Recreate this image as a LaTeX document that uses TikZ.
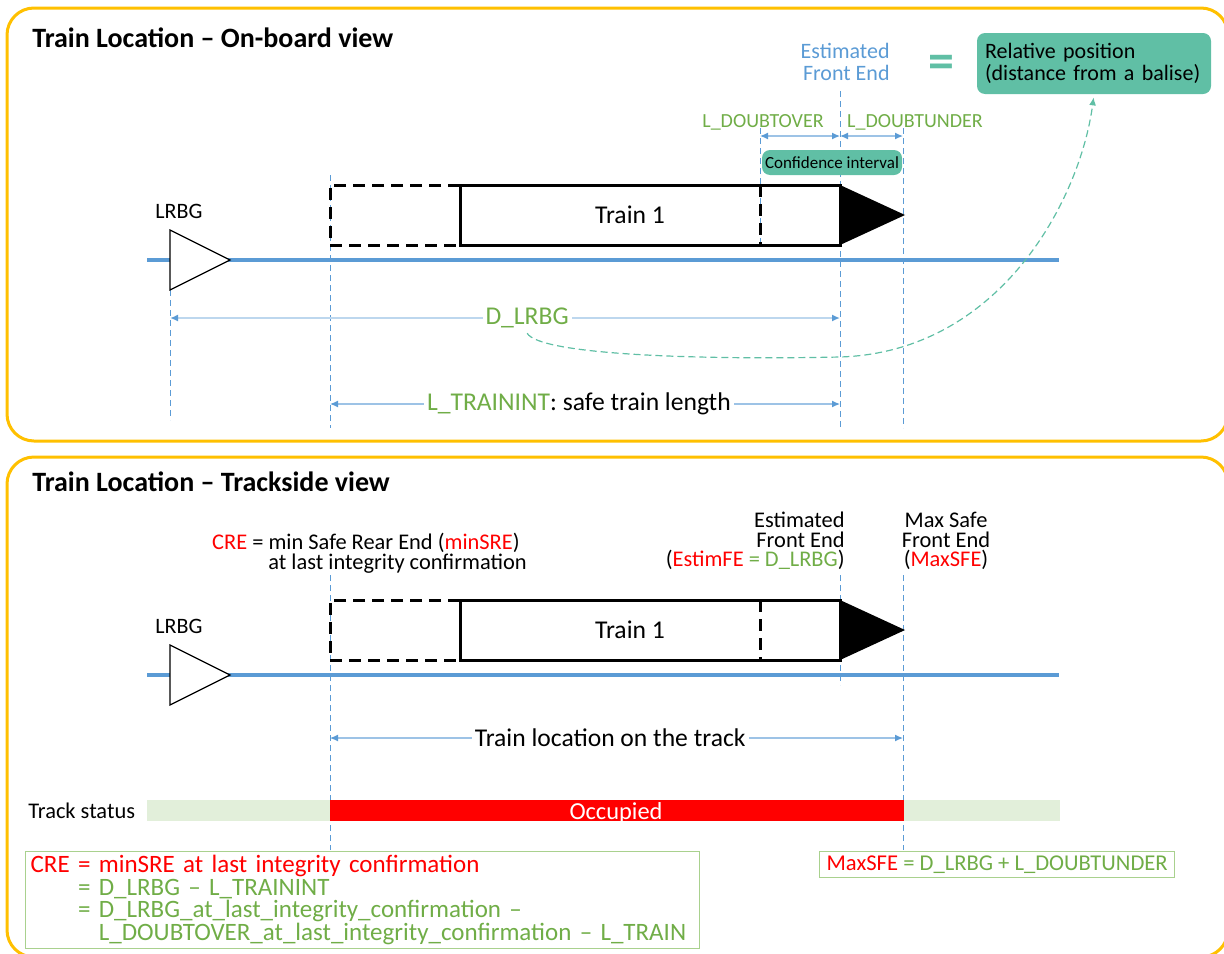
\documentclass[tikz,border=0pt]{standalone}
\usepackage{fontspec}
\setmainfont{Carlito}
\usetikzlibrary{arrows.meta}

\definecolor{frameyellow}{HTML}{FFC000}
\definecolor{trackblue}{HTML}{5B9BD5}
\definecolor{dimblue}{HTML}{9DC3E6}
\definecolor{paleblue}{HTML}{BDD7EE}
\definecolor{txtgreen}{HTML}{70AD47}
\definecolor{boxgreen}{HTML}{A9D18E}
\definecolor{freegreen}{HTML}{E2EFDA}
\definecolor{tealfill}{HTML}{60BFA5}

\begin{document}
\begin{tikzpicture}[x=0.5pt, y=-0.5pt,
    frame/.style={draw=frameyellow, line width=1.5pt, rounded corners=13.5pt},
    heading/.style={anchor=west, inner sep=0pt, font=\fontsize{14}{15}\selectfont\bfseries},
    txt/.style={inner sep=0pt, font=\fontsize{12.8}{11}\selectfont},
    note/.style={inner sep=0pt, font=\fontsize{11.2}{9.8}\selectfont},
    small/.style={inner sep=0pt, font=\fontsize{11}{11}\selectfont},
    track/.style={draw=trackblue, line width=2pt},
    guide/.style={draw=trackblue, line width=0.4pt, dash pattern=on 3pt off 2pt},
    dim/.style={{Latex[length=4pt,width=3.5pt,color=trackblue]}-{Latex[length=4pt,width=3.5pt,color=trackblue]}, draw=dimblue, line width=0.6pt},
    dimlabel/.style={txt, fill=white, inner xsep=1.5pt, inner ysep=2pt},
    tealbox/.style={fill=tealfill, rounded corners=4pt},
    trainline/.style={line width=1.5pt},
    traindash/.style={line width=1.5pt, dash pattern=on 6pt off 3.5pt},
    formula/.style={draw=boxgreen, line width=0.6pt, anchor=north west, align=left, text=txtgreen}
]
\useasboundingbox (0,0) rectangle (1224,953);
\clip (0,0) rectangle (1224,953);

% frames and titles
\draw[frame] (7,8) rectangle (1228,441);
\draw[frame] (7,457) rectangle (1228,957);
\node[heading] (titletop) at (32,38) {Train Location -- On-board view};
\node[heading] (titlebot) at (32,482) {Train Location -- Trackside view};

% guide lines
\draw[guide] (170,290) -- (170,420);
\draw[guide] (330,175) -- (330,428);
\draw[guide] (760,128) -- (760,245);
\draw[guide] (840,91) -- (840,428);
\draw[guide] (903,128) -- (903,428);
\draw[guide] (330,575) -- (330,850);
\draw[guide] (840,575) -- (840,685);
\draw[guide] (903,575) -- (903,850);

% track, balise and train, once per view
\foreach \dy/\p in {0/top,415/bot} {
  \begin{scope}[shift={(0,\dy)}]
    \draw[track] (147,260) -- (1059,260);
    \draw[fill=white, line width=0.6pt] (170,230) -- (230,260) -- (170,290) -- cycle;
    \node[small] (lrbg\p) at (179,211) {LRBG};
    \draw[traindash] (460,185) -- (330,185) -- (330,245) -- (460,245);
    \draw[trainline] (460,185) rectangle (840,245);
    \draw[traindash] (760,185) -- (760,245);
    \fill (840,185) -- (905,215) -- (840,245) -- cycle;
    \node[txt] (train\p) at (630,215) {Train 1};
  \end{scope}
}

% on-board view
\node[small, anchor=east, align=right, text=trackblue] (estfetop) at (890,62) {Estimated\\Front End};
\node[inner sep=0pt, font=\fontsize{26}{26}\selectfont\bfseries, text=tealfill] (eqsign) at (941,67) {=};
\node[tealbox, align=left, text width=109pt, inner xsep=4pt, minimum height=30.5pt, font=\fontsize{11}{11}\selectfont] (relpos) at (1094,63.5) {Relative position\\(distance from a balise)};

\node[inner sep=0pt, font=\fontsize{10}{10}\selectfont, text=txtgreen] (doubtover) at (763,122) {L\_DOUBTOVER};
\node[inner sep=0pt, font=\fontsize{10}{10}\selectfont, text=txtgreen] (doubtunder) at (915,122) {L\_DOUBTUNDER};
\coordinate (dov0) at (760,136);
\coordinate (dov1) at (840,136);
\coordinate (dun1) at (903,136);
\draw[dim] (dov0) -- (dov1);
\draw[dim] (dov1) -- (dun1);
\node[tealbox, minimum width=70pt, minimum height=12.5pt, inner sep=0pt, font=\fontsize{8.5}{8.5}\selectfont] (confint) at (832,162.5) {Confidence interval};

\coordinate (dl0) at (170,318);
\coordinate (dl1) at (840,318);
\draw[dim, draw=paleblue, line width=1.2pt] (dl0) -- node[dimlabel, pos=0.533, text=txtgreen] (dlrbg) {D\_LRBG} (dl1);
\coordinate (ti0) at (330,404);
\coordinate (ti1) at (840,404);
\draw[dim] (ti0) -- node[dimlabel, pos=0.488] (trainint) {\textcolor{txtgreen}{L\_TRAININT}: safe train length} (ti1);

\draw[draw=tealfill, line width=0.6pt, dash pattern=on 3.5pt off 2pt, -{Latex[length=4pt,width=3.5pt]}, shorten >=1.5pt]
  (dlrbg.south) .. controls (540,355) and (700,360) .. (840,357)
  .. controls (1000,352) and (1080,200) .. (relpos.south);

% trackside view
\node[note, anchor=east, align=right] (cre) at (527,553) {\textcolor{red}{CRE} = min Safe Rear End (\textcolor{red}{minSRE})\hspace*{3.5pt}\\at last integrity confirmation};
\node[note, anchor=east, align=right] (estfebot) at (845,541) {Estimated\\Front End\\(\textcolor{red}{EstimFE} \textcolor{txtgreen}{= D\_LRBG})};
\node[note, align=center] (maxsfe) at (946,541) {Max Safe\\Front End\\(\textcolor{red}{MaxSFE})};

\coordinate (tl0) at (330,738);
\coordinate (tl1) at (903,738);
\draw[dim] (tl0) -- node[dimlabel, pos=0.489] (trackloc) {Train location on the track} (tl1);

\node[note, anchor=west] (status) at (28,811) {Track status};
\fill[freegreen] (147,800) rectangle (1060,821);
\fill[red] (330,800) rectangle (904,821);
\node[inner sep=0pt, font=\fontsize{12.2}{12}\selectfont, text=white] (occupied) at (616,813) {Occupied};

\node[formula, text width=332pt, inner xsep=2.5pt, inner ysep=2pt, font=\fontsize{12.5}{11.25}\selectfont] (creformula) at (25,851)
  {\textcolor{red}{CRE = minSRE at last integrity confirmation}\\
   \phantom{CRE }= D\_LRBG -- L\_TRAININT\\
   \phantom{CRE }= D\_LRBG\_at\_last\_integrity\_confirmation --\\
   \phantom{CRE = }L\_DOUBTOVER\_at\_last\_integrity\_confirmation -- L\_TRAIN};
\node[formula, inner xsep=3.5pt, inner ysep=2pt, font=\fontsize{11.3}{11}\selectfont] (sfeformula) at (819,851)
  {\textcolor{red}{MaxSFE} = D\_LRBG + L\_DOUBTUNDER};
\end{tikzpicture}
\end{document}
